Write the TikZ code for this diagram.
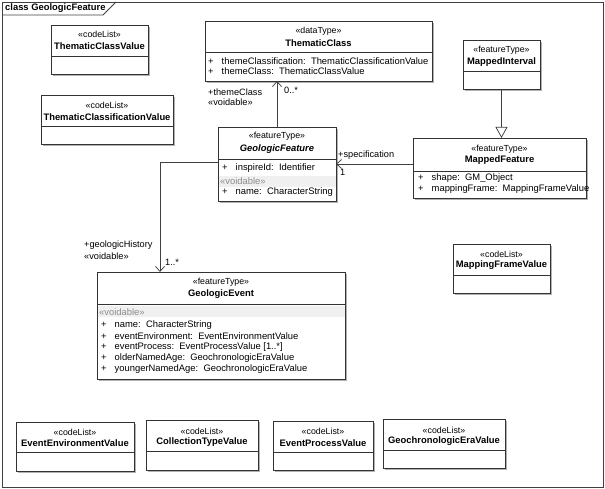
\documentclass[tikz,border=0pt]{standalone}
\usepackage{fontspec}
\setmainfont{Liberation Sans}
\usetikzlibrary{arrows.meta,shadows}

\tikzset{
  classbox/.style={draw=black!80, line width=0.75pt, fill=white, anchor=north west,
    inner sep=0pt, outer sep=0pt,
    drop shadow={shadow xshift=1.6pt, shadow yshift=-1.6pt, opacity=0.3, fill=black}},
  sepline/.style={draw=black!80, line width=0.75pt},
  stereo/.style={inner sep=0pt, font=\fontsize{8.8}{10}\selectfont},
  cname/.style={inner sep=0pt, font=\fontsize{9.4}{11}\selectfont\bfseries},
  attr/.style={inner sep=0pt, anchor=west, font=\fontsize{9.4}{11}\selectfont},
  voidtag/.style={attr, text=black!45},
  role/.style={inner sep=0pt, anchor=west, font=\fontsize{9.2}{11}\selectfont},
  assoc/.style={draw=black!75, line width=0.75pt, -{Straight Barb[length=5pt,width=9pt]}},
  gen/.style={draw=black!75, line width=0.75pt, -{Triangle[open,length=11pt,width=12pt,fill=white]}},
}

\begin{document}
\begin{tikzpicture}[x=1pt,y=-1pt]
\useasboundingbox (0,0) rectangle (605,489);

% frame
\draw[black!75, line width=0.8pt] (2,2) rectangle (603,487);
\draw[black!75, line width=0.8pt] (2,15) -- (103,15) -- (116,2);
\node[cname, anchor=west] (frame-title) at (5,8.5) {class GeologicFeature};

% code lists top left
\node[classbox, minimum width=97pt, minimum height=49pt] (tcv) at (51,25) {};
\draw[sepline] (tcv.west |- 0,56) -- (tcv.east |- 0,56);
\node[stereo] (tcv-s) at (99.5,34) {«codeList»};
\node[cname] (tcv-n) at (99.5,46) {ThematicClassValue};

\node[classbox, minimum width=132pt, minimum height=49pt] (tcfv) at (41,95) {};
\draw[sepline] (tcfv.west |- 0,126) -- (tcfv.east |- 0,126);
\node[stereo] (tcfv-s) at (107,105) {«codeList»};
\node[cname] (tcfv-n) at (107,117) {ThematicClassificationValue};

% ThematicClass
\node[classbox, minimum width=227pt, minimum height=60pt] (tc) at (205,21) {};
\draw[sepline] (tc.west |- 0,52) -- (tc.east |- 0,52);
\node[stereo] (tc-s) at (318.5,31) {«dataType»};
\node[cname] (tc-n) at (318.5,43) {ThematicClass};
\node[attr] (tc-a1) at (208,61) {+\hskip 8pt themeClassification:\ \ ThematicClassificationValue};
\node[attr] (tc-a2) at (208,71.5) {+\hskip 8pt themeClass:\ \ ThematicClassValue};

% MappedInterval
\node[classbox, minimum width=77pt, minimum height=49pt] (mi) at (463,40) {};
\draw[sepline] (mi.west |- 0,71) -- (mi.east |- 0,71);
\node[stereo] (mi-s) at (501.5,50) {«featureType»};
\node[cname] (mi-n) at (501.5,62) {MappedInterval};

% GeologicFeature
\node[classbox, minimum width=118pt, minimum height=74pt] (gf) at (218,127) {};
\draw[sepline] (gf.west |- 0,159) -- (gf.east |- 0,159);
\fill[black!6] ([xshift=0.5pt]gf.west |- 0,176) rectangle ([xshift=-0.5pt]gf.east |- 0,187);
\node[stereo] (gf-s) at (277,136) {«featureType»};
\node[cname, font=\fontsize{9.4}{11}\selectfont\bfseries\itshape] (gf-n) at (277,149) {GeologicFeature};
\node[attr] (gf-a1) at (222,168) {+\hskip 8pt inspireId:\ \ Identifier};
\node[voidtag] (gf-v) at (220,181.5) {«voidable»};
\node[attr] (gf-a2) at (222,192.5) {+\hskip 8pt name:\ \ CharacterString};

% MappedFeature
\node[classbox, minimum width=173pt, minimum height=60pt] (mf) at (413,138) {};
\draw[sepline] (mf.west |- 0,171) -- (mf.east |- 0,171);
\node[stereo] (mf-s) at (499.5,149) {«featureType»};
\node[cname] (mf-n) at (499.5,160) {MappedFeature};
\node[attr] (mf-a1) at (418,178) {+\hskip 8pt shape:\ \ GM\_Object};
\node[attr] (mf-a2) at (418,189) {+\hskip 8pt mappingFrame:\ \ MappingFrameValue};

% MappingFrameValue
\node[classbox, minimum width=97pt, minimum height=49pt] (mfv) at (453,244) {};
\draw[sepline] (mfv.west |- 0,275) -- (mfv.east |- 0,275);
\node[stereo] (mfv-s) at (501.5,254) {«codeList»};
\node[cname] (mfv-n) at (501.5,265) {MappingFrameValue};

% GeologicEvent
\node[classbox, minimum width=248pt, minimum height=107pt] (ge) at (97,272) {};
\draw[sepline] (ge.west |- 0,304) -- (ge.east |- 0,304);
\fill[black!6] ([xshift=0.5pt]ge.west |- 0,306) rectangle ([xshift=-0.5pt]ge.east |- 0,317);
\node[stereo] (ge-s) at (221,282) {«featureType»};
\node[cname] (ge-n) at (221,294) {GeologicEvent};
\node[voidtag] (ge-v) at (99,312) {«voidable»};
\node[attr] (ge-a1) at (101,325) {+\hskip 8pt name:\ \ CharacterString};
\node[attr] (ge-a2) at (101,336) {+\hskip 8pt eventEnvironment:\ \ EventEnvironmentValue};
\node[attr] (ge-a3) at (101,347) {+\hskip 8pt eventProcess:\ \ EventProcessValue [1..*]};
\node[attr] (ge-a4) at (101,358) {+\hskip 8pt olderNamedAge:\ \ GeochronologicEraValue};
\node[attr] (ge-a5) at (101,369) {+\hskip 8pt youngerNamedAge:\ \ GeochronologicEraValue};

% code lists bottom row
\node[classbox, minimum width=118pt, minimum height=49pt] (eev) at (16,422) {};
\draw[sepline] (eev.west |- 0,452) -- (eev.east |- 0,452);
\node[stereo] (eev-s) at (75,432) {«codeList»};
\node[cname] (eev-n) at (75,443) {EventEnvironmentValue};

\node[classbox, minimum width=112pt, minimum height=50pt] (ctv) at (146,420) {};
\draw[sepline] (ctv.west |- 0,451) -- (ctv.east |- 0,451);
\node[stereo] (ctv-s) at (202,431) {«codeList»};
\node[cname] (ctv-n) at (202,442) {CollectionTypeValue};

\node[classbox, minimum width=100pt, minimum height=49pt] (epv) at (273,421) {};
\draw[sepline] (epv.west |- 0,452) -- (epv.east |- 0,452);
\node[stereo] (epv-s) at (323,431) {«codeList»};
\node[cname] (epv-n) at (323,443) {EventProcessValue};

\node[classbox, minimum width=122pt, minimum height=49pt] (gev) at (383,419) {};
\draw[sepline] (gev.west |- 0,450) -- (gev.east |- 0,450);
\node[stereo] (gev-s) at (444,430) {«codeList»};
\node[cname] (gev-n) at (444,441) {GeochronologicEraValue};

% associations
\draw[assoc] (gf.north) -- (gf.north |- tc.south);
\node[role] (tc-r1) at (208,92) {+themeClass};
\node[role] (tc-r2) at (208,102.5) {«voidable»};
\node[role] (tc-m) at (284,90.5) {0..*};

\draw[assoc] (mf.west |- 0,164) -- (gf.east |- 0,164);
\node[role] (mf-r) at (338,155) {+specification};
\node[role] (mf-m) at (340,172.5) {1};

\draw[assoc] (gf.west |- 0,162) -| (ge.north -| 160,0);
\node[role] (ge-r1) at (84,245) {+geologicHistory};
\node[role] (ge-r2) at (84,256) {«voidable»};
\node[role] (ge-m) at (165,262) {1..*};

% generalization
\draw[gen] (mi.south) -- (mi.south |- mf.north);
\end{tikzpicture}
\end{document}
